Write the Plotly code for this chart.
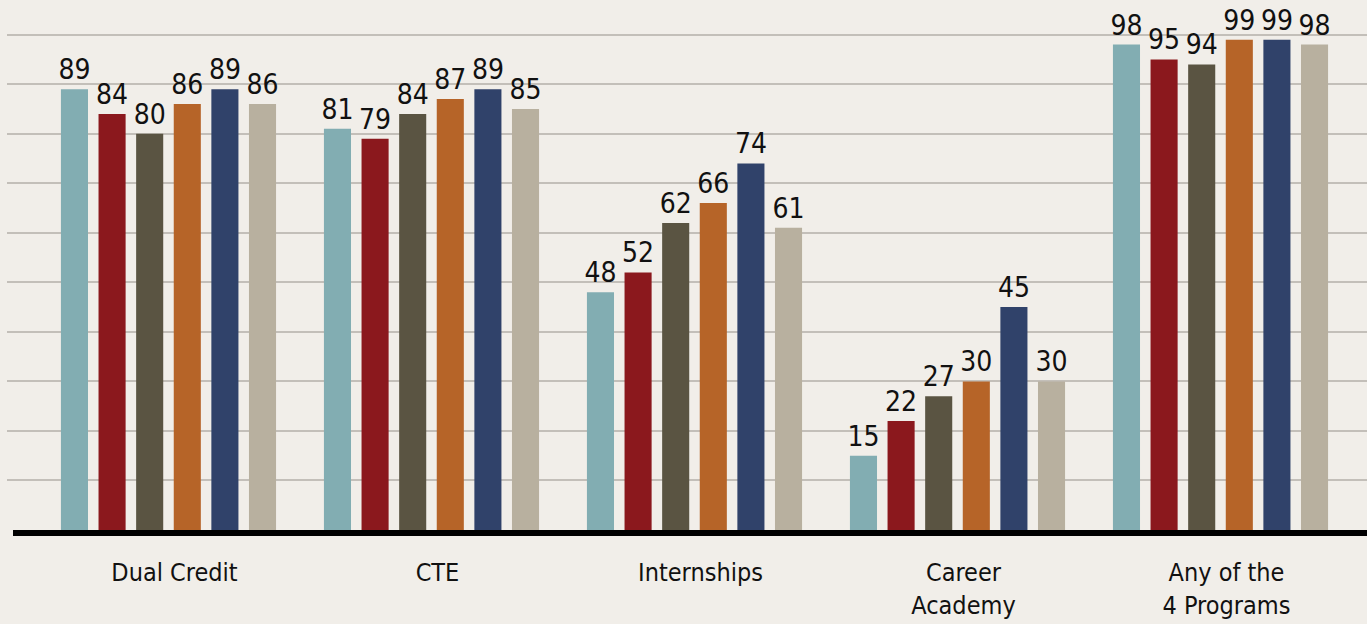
import plotly.graph_objects as go

categories = ["Dual Credit", "CTE", "Internships", "Career<br>Academy", "Any of the<br>4 Programs"]
series_names = ["Series 1", "Series 2", "Series 3", "Series 4", "Series 5", "Series 6"]
values = [
    [89, 81, 48, 15, 98],
    [84, 79, 52, 22, 95],
    [80, 84, 62, 27, 94],
    [86, 87, 66, 30, 99],
    [89, 89, 74, 45, 99],
    [86, 85, 61, 30, 98],
]
colors = ["#82adb2", "#8b181d", "#5a5442", "#b66428", "#30426a", "#b8b09f"]

W, H = 1367, 624
ML, MR, MT, MB = 7, 0, 0, 94
FONT = "DejaVu Sans Condensed, Liberation Sans Narrow, sans-serif"

fig = go.Figure()
for name, vals, col in zip(series_names, values, colors):
    fig.add_trace(go.Bar(
        x=list(range(len(categories))), y=vals, name=name,
        marker=dict(color=col, line=dict(width=0)),
        text=[str(v) for v in vals], textposition="outside",
        textfont=dict(family=FONT, size=28, color="#111111"),
        constraintext="none", cliponaxis=False,
    ))

fig.add_shape(type="line", xref="paper", yref="paper",
              x0=(13 - ML) / (W - ML - MR), x1=1, y0=-3 / (H - MT - MB), y1=-3 / (H - MT - MB),
              line=dict(color="#000000", width=6), layer="above")

fig.update_layout(
    width=W, height=H,
    margin=dict(l=ML, r=MR, t=MT, b=MB),
    paper_bgcolor="#f1eee9", plot_bgcolor="#f1eee9",
    barmode="group", bargap=0.142, bargroupgap=0.28,
    showlegend=False,
    font=dict(family=FONT, color="#111111"),
    xaxis=dict(
        tickmode="array", tickvals=list(range(len(categories))), ticktext=categories,
        range=[-0.614, 4.557], showgrid=False, zeroline=False, showline=False,
        ticks="", ticklabelstandoff=25, ticklabelshift=6,
        tickfont=dict(family=FONT, size=25, color="#111111"),
    ),
    yaxis=dict(
        range=[0, 107], dtick=10, tick0=0, showgrid=True, gridcolor="#c3bfb9", gridwidth=2,
        zeroline=False, showline=False, showticklabels=False, ticks="",
    ),
)

fig.write_html("out.html", config={"displayModeBar": False},
               post_script="document.body.style.margin='0';document.body.style.background='#f1eee9';")
